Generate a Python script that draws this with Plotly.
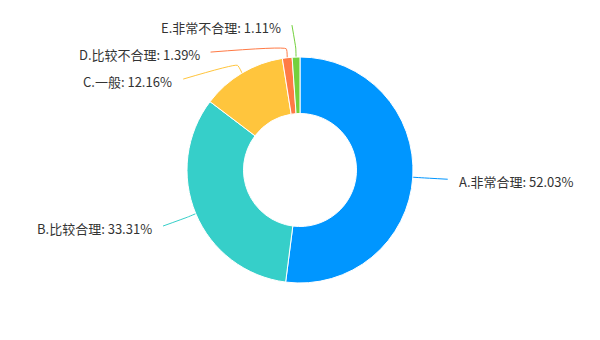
import math
import plotly.graph_objects as go

# ---- data ----
labels = ["A.非常合理", "B.比较合理", "C.一般", "D.比较不合理", "E.非常不合理"]
values = [52.03, 33.31, 12.16, 1.39, 1.11]
colors = ["#0096FF", "#36CFC9", "#FFC53D", "#FF7A45", "#73D13D"]

# ---- layout constants ----
W, H = 600, 340
CX, CY = 300, 170
R = 113
HOLE = 0.5
ELBOW = 9        # radial length of first leader segment
NAT = 145        # radius of natural label anchor
ELL = 148        # radius used to re-place shifted labels
GAP = 27         # min vertical spacing between labels
TEXT_GAP = 9
FONT = "Noto Sans CJK SC"

total = sum(values)
items = []
cum = 0.0
for lab, v, col in zip(labels, values, colors):
    mid = (cum + v / 2) / total * 2 * math.pi
    cum += v
    dx, dy = math.sin(mid), -math.cos(mid)
    side = 1 if dx >= 0 else -1
    items.append(dict(lab=lab, v=v, col=col, dx=dx, dy=dy, side=side,
                      y=CY + NAT * dy, x=CX + NAT * dx + 3 * side))

# label collision avoidance per side (push down)
for side in (1, -1):
    grp = sorted([it for it in items if it["side"] == side], key=lambda it: it["y"])
    last = -1e9
    for it in grp:
        if it["y"] < last + GAP:
            it["y"] = last + GAP
        last = it["y"]
        ddy = abs(it["y"] - CY)
        if ddy < 140:
            it["x"] = CX + side * math.sqrt(ELL ** 2 - ddy ** 2)

fig = go.Figure()
fig.add_trace(go.Pie(
    labels=labels, values=values, sort=False, direction="clockwise", rotation=0,
    hole=HOLE, marker=dict(colors=colors, line=dict(color="#FFFFFF", width=1)),
    textinfo="none", hoverinfo="skip", showlegend=False,
    domain=dict(x=[(CX - R) / W, (CX + R) / W],
                y=[(H - CY - R) / H, (H - CY + R) / H]),
))

annotations = []
for it in items:
    p0 = (CX + R * it["dx"], CY + R * it["dy"])
    p1 = (CX + (R + ELBOW) * it["dx"], CY + (R + ELBOW) * it["dy"])
    p2 = (it["x"], it["y"])
    fig.add_trace(go.Scatter(
        x=[p0[0], p1[0], p2[0]], y=[p0[1], p1[1], p2[1]], mode="lines",
        line=dict(color=it["col"], width=1, shape="spline", smoothing=0.4),
        hoverinfo="skip", showlegend=False,
    ))
    annotations.append(dict(
        x=p2[0] + it["side"] * TEXT_GAP, y=p2[1] + 2, xref="x", yref="y",
        text=f"{it['lab']}: {it['v']:.2f}%", showarrow=False,
        xanchor="left" if it["side"] > 0 else "right", yanchor="middle",
        font=dict(family=FONT, size=13, color="#333333"),
    ))

fig.update_layout(
    width=W, height=H, margin=dict(l=0, r=0, t=0, b=0),
    paper_bgcolor="white", plot_bgcolor="white",
    xaxis=dict(range=[0, W], visible=False, fixedrange=True),
    yaxis=dict(range=[H, 0], visible=False, fixedrange=True),
    annotations=annotations, showlegend=False,
)

fig.write_html("out.html", config={"displayModeBar": False})
